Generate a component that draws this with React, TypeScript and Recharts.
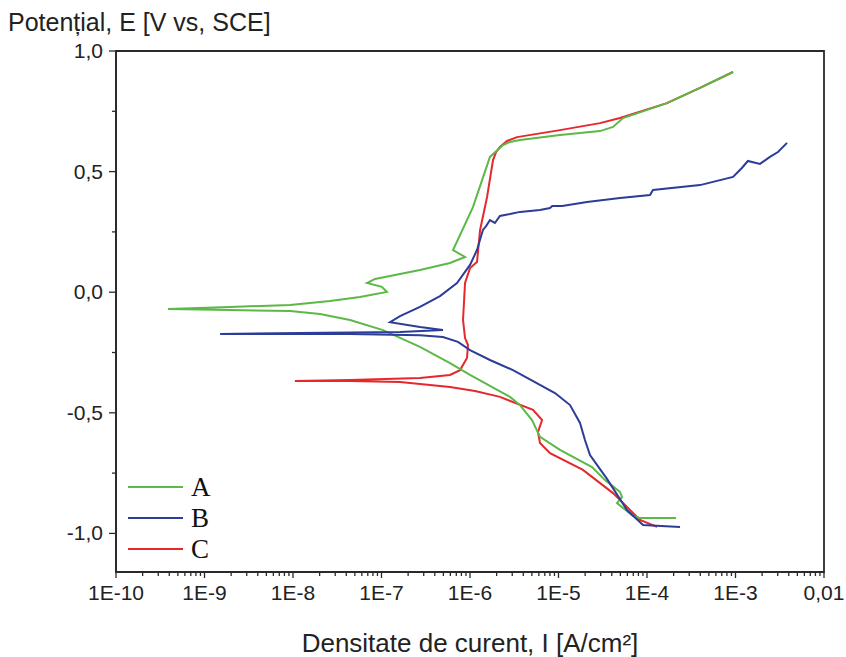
import { LineChart, Line, XAxis, YAxis, ReferenceArea, Legend, Label } from 'recharts'

// [current density A/cm², potential V] in scan order (cathodic -> anodic)
const curveA: [number, number][] = [
  [2.13e-4, -0.936], [8.34e-5, -0.936], [6.95e-5, -0.928], [4.58e-5, -0.874], [5.22e-5, -0.849],
  [4.95e-5, -0.828], [3.35e-5, -0.779], [2.39e-5, -0.725], [1.04e-5, -0.654], [6.18e-6, -0.6],
  [5.02e-6, -0.53], [3.67e-6, -0.468], [2.83e-6, -0.434], [1.0e-6, -0.343], [5.94e-7, -0.294],
  [2.72e-7, -0.227], [1.04e-7, -0.157], [4.41e-8, -0.115], [2.02e-8, -0.09], [9.25e-9, -0.078],
  [1.94e-9, -0.074], [3.87e-10, -0.07], [1.94e-9, -0.061], [9.25e-9, -0.053], [2.62e-8, -0.036],
  [5.71e-8, -0.02], [1.15e-7, 0.001], [1.01e-7, 0.022], [6.86e-8, 0.038], [8.45e-8, 0.055],
  [1.42e-7, 0.071], [2.72e-7, 0.092], [5.94e-7, 0.121], [8.79e-7, 0.146], [6.43e-7, 0.175],
  [1.08e-6, 0.353], [1.68e-6, 0.561], [2.36e-6, 0.61], [2.83e-6, 0.623], [3.67e-6, 0.631],
  [1.04e-5, 0.652], [2.94e-5, 0.668], [4.13e-5, 0.685], [5.36e-5, 0.722], [1.68e-4, 0.784],
  [3.97e-4, 0.847], [9.38e-4, 0.913],
]

const curveB: [number, number][] = [
  [2.36e-4, -0.973], [9.02e-5, -0.965], [5.94e-5, -0.903], [3.53e-5, -0.774], [2.27e-5, -0.675],
  [1.99e-5, -0.613], [1.75e-5, -0.542], [1.35e-5, -0.468], [9.12e-6, -0.418], [3.06e-6, -0.323],
  [1.68e-6, -0.281], [1.0e-6, -0.24], [7.31e-7, -0.206], [4.95e-7, -0.186], [2.72e-7, -0.178],
  [4.41e-8, -0.173], [7.13e-9, -0.173], [1.5e-9, -0.173], [1.2e-8, -0.169], [1.62e-7, -0.165],
  [4.95e-7, -0.157], [2.72e-7, -0.144], [1.25e-7, -0.124], [1.62e-7, -0.099], [2.72e-7, -0.061],
  [4.58e-7, -0.016], [7.13e-7, 0.038], [1.0e-6, 0.113], [1.2e-6, 0.175], [1.4e-6, 0.258],
  [1.52e-6, 0.274], [1.68e-6, 0.299], [1.91e-6, 0.287], [2.18e-6, 0.316], [2.83e-6, 0.324],
  [3.67e-6, 0.333], [6.18e-6, 0.341], [8.02e-6, 0.349], [8.5e-6, 0.357], [1.1e-5, 0.357],
  [2.1e-5, 0.374], [4.95e-5, 0.391], [1.08e-4, 0.403], [1.17e-4, 0.424], [3.97e-4, 0.444],
  [9.38e-4, 0.478], [1.18e-3, 0.515], [1.38e-3, 0.544], [1.89e-3, 0.532], [2.45e-3, 0.561],
  [3.02e-3, 0.581], [3.82e-3, 0.619],
]

const curveC: [number, number][] = [
  [1.3e-4, -0.973], [8.34e-5, -0.944], [4.13e-5, -0.833], [1.89e-5, -0.737], [8.02e-6, -0.667],
  [6.18e-6, -0.625], [5.86e-6, -0.58], [6.52e-6, -0.53], [5.15e-6, -0.488], [2.18e-6, -0.434],
  [1.14e-6, -0.41], [5.94e-7, -0.393], [1.62e-7, -0.372], [4.41e-8, -0.368], [1.05e-8, -0.368],
  [4.41e-8, -0.364], [2.72e-7, -0.356], [5.94e-7, -0.343], [7.71e-7, -0.323], [9.25e-7, -0.273],
  [9.49e-7, -0.219], [8.79e-7, -0.19], [8.34e-7, -0.115], [8.79e-7, 0.038], [1.0e-6, 0.1],
  [1.2e-6, 0.125], [1.3e-6, 0.258], [1.56e-6, 0.395], [1.82e-6, 0.548], [1.97e-6, 0.581],
  [2.18e-6, 0.602], [2.62e-6, 0.627], [3.4e-6, 0.643], [1.04e-5, 0.672], [2.94e-5, 0.701],
  [4.95e-5, 0.722], [1.68e-4, 0.784], [3.97e-4, 0.847], [9.38e-4, 0.913],
]

const seriesNames = ['A', 'B', 'C']
const seriesColors = ['#5cb947', '#2c3d98', '#e6282b']

const xMajor = [1e-10, 1e-9, 1e-8, 1e-7, 1e-6, 1e-5, 1e-4, 1e-3, 1e-2]
const xLabels = ['1E-10', '1E-9', '1E-8', '1E-7', '1E-6', '1E-5', '1E-4', '1E-3', '0,01']
const yMajor = [-1, -0.5, 0, 0.5, 1]
const yLabels = ['-1,0', '-0,5', '0,0', '0,5', '1,0']
const yMinor = [-0.75, -0.25, 0.25, 0.75]

const xMinor: number[] = []
xMajor.slice(0, -1).forEach((d) => {
  for (let m = 2; m <= 9; m++) xMinor.push(m * d)
})

const FONT = '"Liberation Sans", Arial, Helvetica, sans-serif'
const AXIS = '#2a2a2a'

const toRows = (c: [number, number][]) => c.map(([i, e]) => ({ i, e }))

function XTick({ x, y, payload }: any) {
  const v = payload.value
  const idx = xMajor.findIndex((m) => Math.abs(m - v) / m < 1e-6)
  const major = idx >= 0
  return (
    <g>
      <line x1={x} x2={x} y1={y} y2={y + (major ? 6 : 4)} stroke={AXIS} strokeWidth={1.3} />
      {major && (
        <text x={x} y={y + 28} textAnchor="middle" fontSize={21} fontFamily={FONT} fill="#222">
          {xLabels[idx]}
        </text>
      )}
    </g>
  )
}

function YTick({ x, y, payload }: any) {
  const v = payload.value
  const idx = yMajor.findIndex((m) => Math.abs(m - v) < 1e-6)
  const major = idx >= 0
  return (
    <g>
      <line x1={x - (major ? 7 : 4)} x2={x} y1={y} y2={y} stroke={AXIS} strokeWidth={1.3} />
      {major && (
        <text x={x - 13} y={y + 7} textAnchor="end" fontSize={21} fontFamily={FONT} fill="#222">
          {yLabels[idx]}
        </text>
      )}
    </g>
  )
}

function LegendBox() {
  return (
    <svg width={110} height={95}>
      {seriesNames.map((n, k) => (
        <g key={n}>
          <line x1={3} x2={58} y1={17 + k * 31} y2={17 + k * 31} stroke={seriesColors[k]} strokeWidth={2} />
          <text x={66} y={26 + k * 31} fontSize={27} fontFamily='"Liberation Serif", "Times New Roman", serif' fill="#111">
            {n}
          </text>
        </g>
      ))}
    </svg>
  )
}

export default function App() {
  const curves = [curveA, curveB, curveC]
  const drawOrder = [2, 0, 1]
  return (
    <div style={{ position: 'absolute', left: 0, top: 0, background: '#fff' }}>
      <LineChart width={846} height={657} margin={{ top: 51, right: 22, bottom: 0, left: 0 }}>
        <XAxis
          dataKey="i"
          type="number"
          scale="log"
          domain={[1e-10, 1e-2]}
          allowDataOverflow
          ticks={[...xMajor, ...xMinor]}
          interval={0}
          tick={<XTick />}
          tickLine={false}
          tickSize={0}
          tickMargin={0}
          height={85}
          axisLine={{ stroke: AXIS, strokeWidth: 1.8 }}
        >
          <Label
            content={() => (
              <text x={470} y={652} textAnchor="middle" fontSize={26} fontFamily={FONT} fill="#222">
                Densitate de curent, I [A/cm²]
              </text>
            )}
          />
        </XAxis>
        <YAxis
          type="number"
          domain={[-1.16, 1]}
          allowDataOverflow
          ticks={[...yMajor, ...yMinor]}
          interval={0}
          tick={<YTick />}
          tickLine={false}
          tickSize={0}
          tickMargin={0}
          width={116}
          axisLine={{ stroke: AXIS, strokeWidth: 1.8 }}
        >
          <Label
            content={() => (
              <text x={8} y={31} fontSize={25} fontFamily={FONT} fill="#222">
                Potențial, E [V vs, SCE]
              </text>
            )}
          />
        </YAxis>
        <ReferenceArea x1={1e-10} x2={1e-2} y1={-1.16} y2={1} fill="none" stroke={AXIS} strokeWidth={1.8} />
        {drawOrder.map((k) => (
          <Line
            key={seriesNames[k]}
            name={seriesNames[k]}
            data={toRows(curves[k])}
            dataKey="e"
            type="linear"
            stroke={seriesColors[k]}
            strokeWidth={2}
            dot={false}
            activeDot={false}
            isAnimationActive={false}
          />
        ))}
        <Legend
          layout="vertical"
          align="center"
          verticalAlign="middle"
          content={() => <LegendBox />}
          wrapperStyle={{ left: 125, top: 470, width: 110 }}
        />
      </LineChart>
    </div>
  )
}
